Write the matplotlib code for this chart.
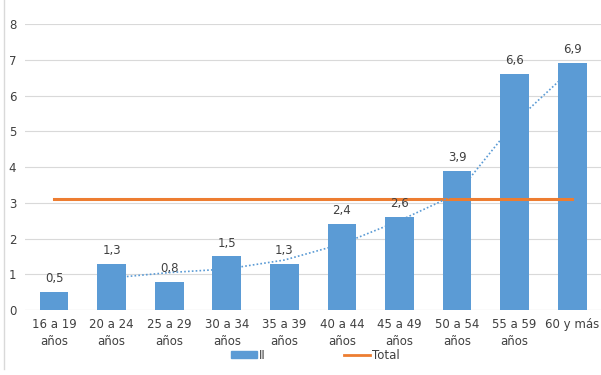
import numpy as np
import matplotlib.pyplot as plt
from matplotlib.lines import Line2D

categorias = ['16 a 19\naños', '20 a 24\naños', '25 a 29\naños', '30 a 34\naños',
              '35 a 39\naños', '40 a 44\naños', '45 a 49\naños', '50 a 54\naños',
              '55 a 59\naños', '60 y más']
valores_ii = [0.5, 1.3, 0.8, 1.5, 1.3, 2.4, 2.6, 3.9, 6.6, 6.9]
total = [3.1] * len(categorias)

plt.rcParams['font.family'] = ['DejaVu Sans']
azul = '#5B9BD5'
naranja = '#ED7D31'
texto = '#404040'

fig = plt.figure(figsize=(6.01, 3.75), dpi=100)
ax = fig.add_axes([0.042, 0.173, 0.958, 0.763])

x = np.arange(len(categorias))
ax.bar(x, valores_ii, width=0.5, color=azul, zorder=2)
ax.plot(x, total, color=naranja, lw=2.2, zorder=3)

# media movil de 2 periodos (linea de tendencia)
mm = np.convolve(valores_ii, [0.5, 0.5], mode='valid')
ax.plot(x[1:], mm, color=azul, ls=(0, (1, 1.3)), lw=1.2, zorder=4)

for xi, v in zip(x, valores_ii):
    ax.annotate(f'{v:.1f}'.replace('.', ','), (xi, v), xytext=(0, 5),
                textcoords='offset points', ha='center', va='bottom',
                fontsize=8.5, color=texto)

ax.set_xlim(-0.5, len(categorias) - 0.5)
ax.set_ylim(0, 8)
ax.set_yticks(range(9))
ax.set_xticks(x)
ax.set_xticklabels(categorias, fontsize=8.5, color=texto, linespacing=1.35)
ax.tick_params(axis='y', labelsize=8.5, labelcolor=texto, length=0, pad=6.5)
ax.tick_params(axis='x', length=0, pad=6)
ax.grid(axis='y', color='#D9D9D9', lw=0.8, zorder=0)
for s in ax.spines.values():
    s.set_visible(False)
ax.axhline(0, color='#D9D9D9', lw=0.8, zorder=1)

handles = [plt.Rectangle((0, 0), 1, 1, color=azul),
           Line2D([0], [0], color=naranja, lw=2)]
fig.legend(handles, ['II', 'Total'], loc='center', bbox_to_anchor=(0.525, 0.053),
           ncol=2, frameon=False, fontsize=8.5, columnspacing=6.6,
           handlelength=2.2, handleheight=0.6, handletextpad=0.2,
           labelcolor=texto)

fig.add_artist(Line2D([0.006, 0.006], [0.015, 1.0], color='#D9D9D9', lw=1,
                      transform=fig.transFigure))

fig.savefig('out.png', dpi=100)
